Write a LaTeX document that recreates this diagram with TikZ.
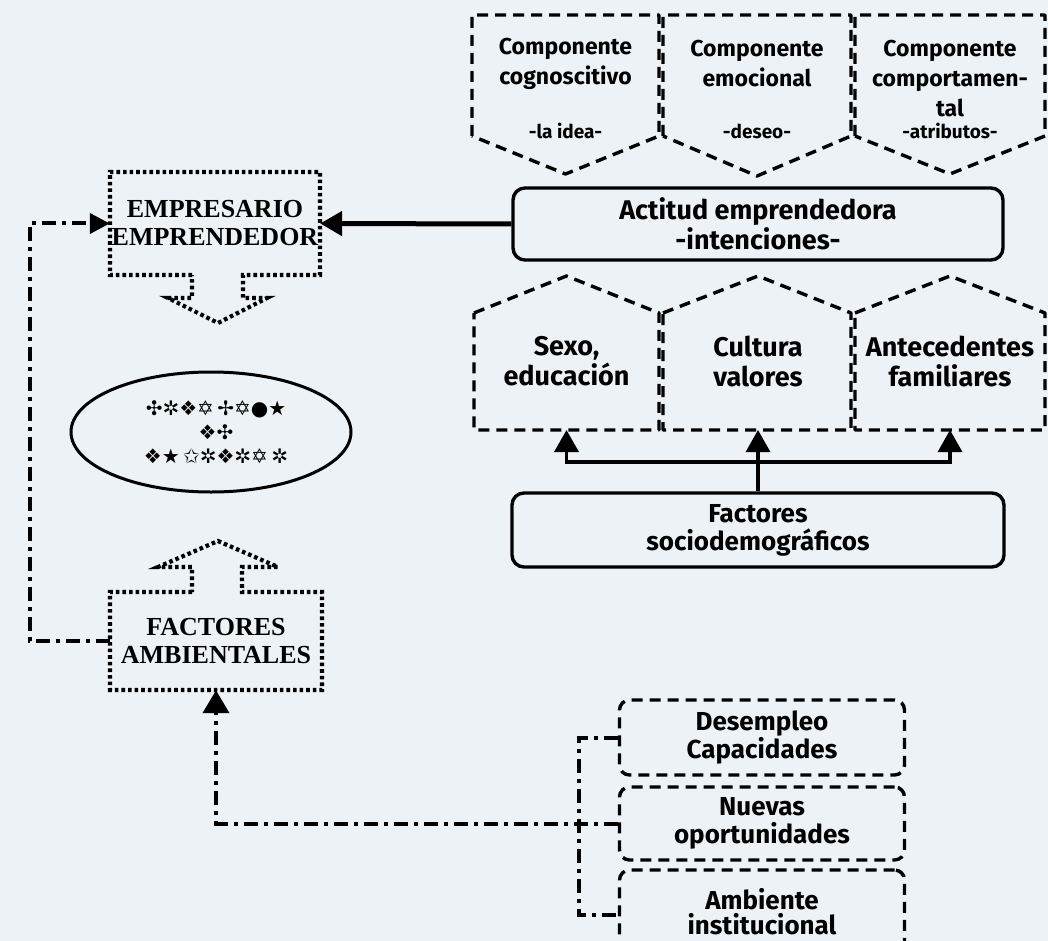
\documentclass[tikz,border=0pt]{standalone}
\usepackage{fontspec}
\setmainfont{Liberation Serif}
\newfontfamily\cs{Fira Sans}
\newfontfamily\symf{DejaVu Sans}
\usetikzlibrary{arrows.meta,shapes.geometric}
\definecolor{paper}{RGB}{237,242,246}
\begin{document}
\begin{tikzpicture}[x=1pt,y=-1pt,
  dashbox/.style={line width=3.4pt, dash pattern=on 11pt off 7pt, line join=round},
  rdashbox/.style={draw, line width=3.4pt, dash pattern=on 11pt off 7pt, rounded corners=10pt},
  dotbox/.style={line width=4.2pt, dash pattern=on 3.6pt off 3pt},
  dd/.style={line width=4pt, dash pattern=on 14pt off 6pt on 4pt off 6pt},
  solidbox/.style={draw, line width=3.4pt, rounded corners=12pt},
  txtA/.style={font=\cs\bfseries\fontsize{23}{30}\selectfont, align=center, inner sep=0pt},
  txtS/.style={font=\cs\bfseries\fontsize{19}{22}\selectfont, align=center, inner sep=0pt},
  txtB/.style={font=\cs\bfseries\fontsize{26}{28}\selectfont, align=center, inner sep=0pt},
  txtC/.style={font=\cs\bfseries\fontsize{27}{30}\selectfont, align=center, inner sep=0pt},
  serifbig/.style={font=\bfseries\fontsize{26}{28}\selectfont, align=center, inner sep=0pt},
  bigtip/.style={-{Triangle[length=22pt,width=24pt]}},
]
\useasboundingbox (0,0) rectangle (1048,941);
\fill[paper] (0,0) rectangle (1048,941);
\clip (0,0) rectangle (1048,941);

% top three components
\draw[dashbox] (472,136) -- (472,15) -- (659,15) -- (659,136) -- (565.5,174) -- cycle;
\draw[dashbox] (663,136) -- (663,15) -- (851,15) -- (851,136) -- (757,176) -- cycle;
\draw[dashbox] (855,136) -- (855,15) -- (1045,15) -- (1045,136) -- (950,174) -- cycle;
\node[txtA] (c1) at (565.5,64) {Componente\\cognoscitivo};
\node[txtA] (c2) at (757,64) {Componente\\emocional};
\node[txtA] (c3) at (950,79) {Componente\\comportamen-\\tal};
\node[txtS] (s1) at (565.5,131) {-la idea-};
\node[txtS] (s2) at (757,131) {-deseo-};
\node[txtS] (s3) at (950,131) {-atributos-};

% actitud
\node[solidbox, txtC, minimum width=490pt, minimum height=72pt] (act) at (758,224) {Actitud emprendedora\\-intenciones-};

% lower three boxes
\draw[dashbox] (474,313) -- (566.5,276) -- (659,313) -- (659,430) -- (474,430) -- cycle;
\draw[dashbox] (663,313) -- (758,276) -- (851,313) -- (851,430) -- (663,430) -- cycle;
\draw[dashbox] (855,313) -- (950,276) -- (1045,313) -- (1045,430) -- (855,430) -- cycle;
\node[txtC] (l1) at (566.5,361) {Sexo,\\educación};
\node[txtC] (l2) at (758,361) {Cultura\\valores};
\node[txtC] (l3) at (950,361) {Antecedentes\\familiares};
\coordinate (b1) at (566.5,430);
\coordinate (b2) at (758,430);
\coordinate (b3) at (950,430);

% sociodemograficos
\node[solidbox, txtB, minimum width=492pt, minimum height=74pt] (soc) at (758,530) {Factores\\sociodemográficos};
\coordinate (bar) at (758,462);
\draw[line width=3.4pt, bigtip] (soc.north) -- (b2);
\draw[line width=3.4pt, bigtip] (bar) -| (b1);
\draw[line width=3.4pt, bigtip] (bar) -| (b3);

% empresario
\node[serifbig, minimum width=210pt, minimum height=103pt] (emp) at (215,223.5) {EMPRESARIO\\EMPRENDEDOR};
\draw[dotbox] (192,275) -- (110,275) -- (110,172) -- (320,172) -- (320,275) -- (243,275) -- (243,298) -- (267,298) -- (218,323) -- (168,298) -- (192,298) -- cycle;
\draw[line width=5pt, bigtip] (act.west) -- (emp.east);

% ellipse
\node[draw, ellipse, line width=3pt, minimum width=280pt, minimum height=120pt] (ell) at (211,432) {};
\node[font=\symf\fontsize{20}{24}\selectfont, align=center, inner sep=0pt] (sym) at (216,432) {✣✲❖✡\,✢✡●★\\❖✣\\❖★\,✩✲❖✲✡\,✲};

% factores ambientales
\node[serifbig, minimum width=212pt, minimum height=98pt] (fac) at (216,641) {FACTORES\\AMBIENTALES};
\draw[dotbox] (192,592) -- (110,592) -- (110,690) -- (322,690) -- (322,592) -- (242,592) -- (242,567) -- (278,567) -- (218,541) -- (158,567) -- (192,567) -- cycle;

\draw[dd, -{Triangle[length=20pt,width=20pt]}] (fac.west) -| ([xshift=-80pt]emp.west) -- (emp.west);

% bottom right boxes
\node[rdashbox, txtB, minimum width=285pt, minimum height=75pt] (des) at (762,737.5) {Desempleo\\Capacidades};
\node[rdashbox, txtB, minimum width=285pt, minimum height=73pt] (nue) at (762,823.5) {Nuevas\\oportunidades};
\node[rdashbox, txtB, minimum width=285pt, minimum height=90pt, text depth=0pt] (amb) at (762,915) {\raisebox{7pt}{\shortstack{Ambiente\\[0pt]institucional}}};

\draw[dd, -{Triangle[length=23pt,width=26pt]}] (nue.west) -| (fac.south);
\draw[dd] (des.west) -- ++(-39,0) |- (amb.west);
\end{tikzpicture}
\end{document}
